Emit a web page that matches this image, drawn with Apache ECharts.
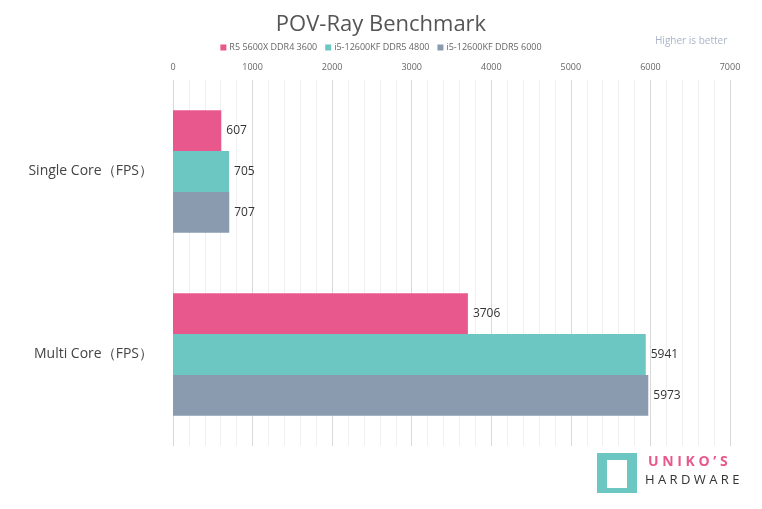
<!DOCTYPE html>
<html><head><meta charset="utf-8">
<script src="https://cdn.jsdelivr.net/npm/echarts@6/dist/echarts.min.js"></script>
<style>html,body{margin:0;padding:0;background:#fff}#c{width:762px;height:509px}</style>
</head><body><div id="c"></div>
<script>
const categories = ['Single Core（FPS）', 'Multi Core（FPS）'];
const seriesNames = ['R5 5600X DDR4 3600', 'i5-12600KF DDR5 4800', 'i5-12600KF DDR5 6000'];
const r5 = [607, 3706];
const i5_4800 = [705, 5941];
const i5_6000 = [707, 5973];
const colors = ['#e9588c', '#6cc6c1', '#8a9bb0'];
const font = '"Open Sans","Noto Sans",sans-serif';
const data = [r5, i5_4800, i5_6000];
const chart = echarts.init(document.getElementById('c'));
chart.setOption({
  animation: false,
  textStyle: {fontFamily: font},
  title: {text: 'POV-Ray Benchmark', left: 'center', top: 9,
    textStyle: {fontSize: 22, fontWeight: 'normal', color: '#555', fontFamily: font}},
  legend: {top: 38, left: 'center', itemWidth: 6, itemHeight: 6, itemGap: 8, icon: 'rect',
    textStyle: {fontSize: 9, color: '#666', padding: [0, 0, 0, -2]}},
  graphic: [
    {type: 'text', left: 655, top: 36, style: {text: 'Higher is better', fontSize: 10, fill: '#aab4c8', fontFamily: font}},
    {type: 'rect', left: 597, top: 453, shape: {width: 40, height: 40}, style: {fill: '#6cc6c1'}},
    {type: 'rect', left: 607, top: 460, shape: {width: 20, height: 28}, style: {fill: '#fff'}},
    {type: 'text', left: 648, top: 455, style: {text: 'U N I K O ’ S', fontSize: 14, fontWeight: 'bold', fill: '#e9588c', fontFamily: font}},
    {type: 'text', left: 645, top: 474, style: {text: 'H A R D W A R E', fontSize: 13, fill: '#333', fontFamily: font}}
  ],
  grid: {left: 173, right: 32, top: 80, bottom: 63},
  xAxis: {type: 'value', position: 'top', min: 0, max: 7000, interval: 1000,
    axisLabel: {fontSize: 9, color: '#666', margin: 8, formatter: v => String(v)},
    axisLine: {show: false}, axisTick: {show: false},
    splitLine: {lineStyle: {color: '#d9d9d9'}},
    minorTick: {show: false, splitNumber: 5},
    minorSplitLine: {show: true, lineStyle: {color: '#f0f0f0'}}},
  yAxis: {type: 'category', data: categories, inverse: true,
    axisLine: {show: false}, axisTick: {show: false},
    axisLabel: {fontSize: 14, color: '#444', margin: 20}},
  series: seriesNames.map((n, i) => ({
    name: n, type: 'bar', data: data[i], barGap: '0%', barCategoryGap: '33%',
    itemStyle: {color: colors[i]},
    label: {show: true, position: 'right', fontSize: 12, color: '#333', distance: 5}
  }))
});
</script></body></html>
